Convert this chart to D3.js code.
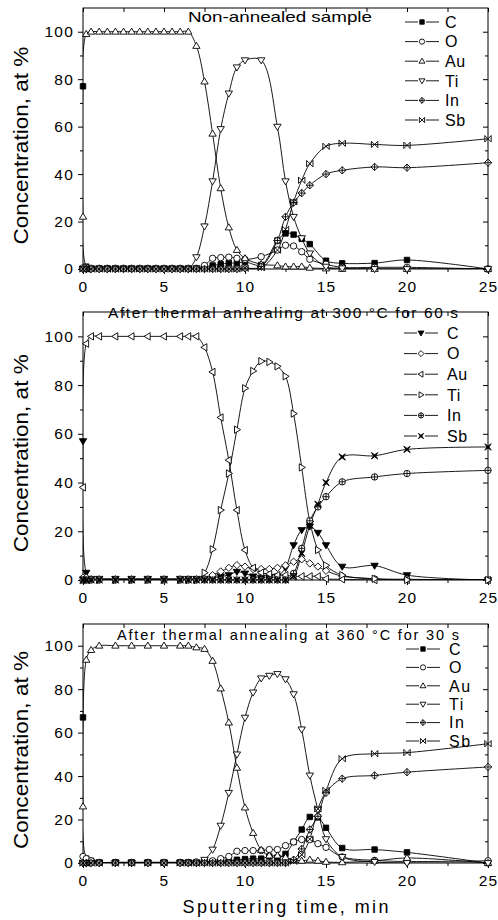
<!DOCTYPE html>
<html>
<head>
<meta charset="utf-8">
<script src="https://cdn.jsdelivr.net/npm/d3@7"></script>
<style>
  body { margin: 0; background: #fff; }
  svg { display: block; font-family: "Liberation Sans", Arial, sans-serif; }
</style>
</head>
<body>
<div id="chart"></div>
<script>
// element names, same order in every panel
const elements = ["C", "O", "Au", "Ti", "In", "Sb"];

// axis ticks
const xTicks = [0, 5, 10, 15, 20, 25];
const xMinor = [2.5, 7.5, 12.5, 17.5, 22.5];
const yTicks = [0, 20, 40, 60, 80, 100];
const yMinor = [10, 30, 50, 70, 90];

// panel 1 : non-annealed sample
const time1 = [0, 0.2, 0.5, 1, 1.5, 2, 2.5, 3, 3.5, 4, 4.5, 5, 5.5, 6, 6.5, 7, 7.5, 8, 8.5, 9, 9.5, 10, 11, 12, 12.5, 13, 13.5, 14, 15, 16, 18, 20, 25];
const c1  = [77, 1, 0.3, 0.3, 0.3, 0.3, 0.3, 0.3, 0.3, 0.3, 0.3, 0.3, 0.3, 0.3, 0.3, 0.3, 0.5, 1.5, 2, 2.5, 2.5, 3, 1.7, 12, 15, 14.5, 12.7, 10.5, 3.5, 2.4, 2.5, 3.8, 0];
const o1  = [0.5, 0.5, 0.3, 0.3, 0.3, 0.3, 0.3, 0.3, 0.3, 0.3, 0.3, 0.3, 0.3, 0.3, 0.3, 0.3, 1.5, 4.5, 4.8, 5, 4.5, 4, 5.2, 8, 10, 9.7, 7.3, 4.1, 2, 0.7, 0.7, 0.7, 0];
const au1 = [22, 99, 100, 100, 100, 100, 100, 100, 100, 100, 100, 100, 100, 100, 100, 94, 79, 57, 34, 17.5, 8, 4.5, 2, 1.5, 1, 1, 1, 0.5, 0.2, 0, 0, 0, 0];
const ti1 = [0, 0, 0, 0, 0, 0, 0, 0, 0, 0, 0, 0, 0, 0, 0, 5, 18, 37, 59, 74, 85, 88, 88, 60, 37, 22, 13, 6.6, 1, 0.3, 0, 0, 0];
const in1 = [0, 0, 0, 0, 0, 0, 0, 0, 0, 0, 0, 0, 0, 0, 0, 0, 0, 0, 0, 0, 0, 0.3, 1, 12, 22, 28, 32, 35.3, 40, 41.6, 43, 42.7, 44.8];
const sb1 = [0, 0, 0, 0, 0, 0, 0, 0, 0, 0, 0, 0, 0, 0, 0, 0, 0, 0, 0, 0, 0, 0.3, 0.5, 8, 16.7, 28.3, 37.4, 44.4, 51.7, 53, 52.5, 52.1, 54.9];

// panel 2 : 300 C for 60 s
const time2 = [0, 0.2, 0.5, 1, 2, 3, 4, 5, 6, 6.5, 7, 7.5, 8, 8.5, 9, 9.5, 10, 10.5, 11, 11.5, 12, 12.5, 13, 13.5, 14, 14.5, 15, 16, 18, 20, 25];
const c2  = [57, 3, 0.5, 0.5, 0.5, 0.5, 0.5, 0.5, 0.5, 0.5, 0.5, 0.5, 0.8, 1.5, 2, 3.4, 2.7, 1.5, 1, 1, 1.5, 5, 14.3, 20.5, 22, 19.4, 14.3, 5.5, 5.9, 2, 0];
const o2  = [1, 1, 0.3, 0.3, 0.3, 0.3, 0.3, 0.3, 0.3, 0.3, 0.3, 0.5, 2, 3.5, 5, 6.1, 5.5, 4.5, 4.5, 4.5, 5, 6, 7.5, 8.5, 6.8, 5.5, 3.8, 1.6, 0.5, 0.3, 0];
const au2 = [38, 97, 100, 100, 100, 100, 100, 100, 100, 100, 100, 95.5, 85.4, 66.7, 49.2, 28.7, 12.3, 5, 3, 2.5, 2, 2, 1.5, 1.5, 1.5, 1.5, 0.5, 0.3, 0, 0, 0];
const ti2 = [0, 0, 0, 0, 0, 0, 0, 0, 0, 0, 0, 3, 12.6, 28.7, 43.7, 61.7, 78.7, 85.8, 89.8, 89.5, 87.7, 83.6, 68.3, 46.2, 24, 12.3, 6, 2, 0.5, 0, 0];
const in2 = [0, 0, 0, 0, 0, 0, 0, 0, 0, 0, 0, 0, 0, 0, 0, 0, 0, 0, 0, 0, 0, 0, 2.7, 13, 24.3, 30, 34.2, 40.3, 42.3, 43.7, 45];
const sb2 = [0, 0, 0, 0, 0, 0, 0, 0, 0, 0, 0, 0, 0, 0, 0, 0, 0, 0, 0, 0, 0, 0, 1.5, 10.9, 22.5, 31.1, 40, 50.5, 51, 53.6, 54.6];

// panel 3 : 360 C for 30 s
const time3 = [0, 0.2, 0.5, 1, 2, 3, 4, 5, 6, 6.5, 7, 7.5, 8, 8.5, 9, 9.5, 10, 10.5, 11, 11.5, 12, 12.5, 13, 13.5, 14, 14.5, 15, 16, 18, 20, 25];
const c3  = [67, 2, 1, 0.3, 0.3, 0.3, 0.3, 0.3, 0.3, 0.3, 0.3, 0.5, 0.5, 0.8, 1, 1.5, 1.8, 2, 2, 3, 2.5, 4.2, 9.7, 15.4, 21.2, 21, 16.2, 6.9, 6.2, 4.9, 0];
const o3  = [3, 2, 1, 0.3, 0.3, 0.3, 0.3, 0.3, 0.3, 0.3, 0.5, 0.5, 1, 2, 3, 5.4, 5.7, 5.7, 5.7, 6.2, 6.2, 8, 9.7, 10.8, 10.8, 8.9, 7.2, 2.8, 1.2, 0.7, 1];
const au3 = [26, 93.5, 98, 100, 100, 100, 100, 100, 100, 100, 99.2, 98.5, 93, 80.3, 64.6, 43.8, 25.5, 13.8, 6, 3.4, 3.4, 2.6, 1.5, 1, 1.5, 1, 0.5, 0.3, 1, 2.3, 0];
const ti3 = [0, 0, 0, 0, 0, 0, 0, 0, 0, 0, 0, 1.5, 6.2, 17.2, 32.3, 50, 66.9, 78.5, 85, 86.2, 87, 84.6, 77.7, 61.5, 40.3, 24.6, 11, 2.8, 0.5, 0, 0];
const in3 = [0, 0, 0, 0, 0, 0, 0, 0, 0, 0, 0, 0, 0, 0, 0, 0, 0, 0, 0, 0, 0, 0, 1.5, 6.5, 15.4, 21.5, 32.3, 38.8, 40.3, 41.8, 44.2];
const sb3 = [0, 0, 0, 0, 0, 0, 0, 0, 0, 0, 0, 0, 0, 0, 0, 0, 0, 0, 0, 0, 0, 0, 0.8, 3.8, 11, 24.9, 33.4, 48, 50.3, 50.8, 54.9];

const titles = [
  "Non-annealed sample",
  "After thermal anhealing at 300 °C for 60 s",
  "After thermal annealing at 360 °C for 30 s"
];

// symbols: set A for panels 1 and 3, set B for panel 2
const symbolsA = [
  {shape: "square", fill: "#000"},
  {shape: "circle", fill: "#fff"},
  {shape: "triUp", fill: "#fff"},
  {shape: "triDown", fill: "#fff"},
  {shape: "diamond", fill: "#fff", plus: true},
  {shape: "bowtie", fill: "none"}
];
const symbolsB = [
  {shape: "triDown", fill: "#000"},
  {shape: "diamond", fill: "#fff"},
  {shape: "triLeft", fill: "#fff"},
  {shape: "triRight", fill: "#fff"},
  {shape: "circle", fill: "#fff", plus: true},
  {shape: "star", fill: "#000"}
];

function shapePath(shape, s) {
  const h = s * 1.15;
  switch (shape) {
    case "square": return `M${-s*0.85},${-s*0.85}H${s*0.85}V${s*0.85}H${-s*0.85}Z`;
    case "circle": return `M${-s},0A${s},${s} 0 1,0 ${s},0A${s},${s} 0 1,0 ${-s},0Z`;
    case "triUp": return `M0,${-h}L${h},${s*0.75}L${-h},${s*0.75}Z`;
    case "triDown": return `M0,${h}L${h},${-s*0.75}L${-h},${-s*0.75}Z`;
    case "triLeft": return `M${-h},0L${s*0.75},${-h}L${s*0.75},${h}Z`;
    case "triRight": return `M${h},0L${-s*0.75},${-h}L${-s*0.75},${h}Z`;
    case "diamond": return `M0,${-h}L${h},0L0,${h}L${-h},0Z`;
    case "bowtie": return `M${-s},${-s}L${s},${s}M${-s},${s}L${s},${-s}M${-s},${-s}V${s}M${s},${-s}V${s}`;
    case "star": return `M${-s},${-s}L0,${-s*0.3}L${s},${-s}L${s*0.3},0L${s},${s}L0,${s*0.3}L${-s},${s}L${-s*0.3},0Z`;
  }
}

function addMarker(g, sym, s) {
  g.append("path")
    .attr("d", shapePath(sym.shape, s))
    .attr("fill", sym.fill)
    .attr("stroke", "#000")
    .attr("stroke-width", 0.9);
  if (sym.plus) {
    const k = sym.shape == "diamond" ? s * 1.15 : s;
    g.append("path")
      .attr("d", `M${-k},0H${k}M0,${-k}V${k}`)
      .attr("stroke", "#000")
      .attr("stroke-width", 0.9);
  }
}

function draw() {
  const width = 498, height = 920;
  const left = 83, right = 488;

  // three stacked panels, each with its own frame and legend placement
  const panels = [
    {top: 8, bottom: 269, time: time1, series: [c1, o1, au1, ti1, in1, sb1], symbols: symbolsA,
     title: {x: 188, dy: 14, len: 184, size: 14.5, adjust: "spacingAndGlyphs"},
     legend: {dy: 14, step: 19.6, sym: 422, text: 445}},
    {top: 312, bottom: 580, time: time2, series: [c2, o2, au2, ti2, in2, sb2], symbols: symbolsB,
     title: {x: 108, dy: 5.5, len: 350, size: 15.5, adjust: "spacing"},
     legend: {dy: 21, step: 20.6, sym: 421, text: 447}},
    {top: 624, bottom: 863, time: time3, series: [c3, o3, au3, ti3, in3, sb3], symbols: symbolsA,
     title: {x: 117, dy: 15.5, len: 342, size: 14.5, adjust: "spacing"},
     legend: {dy: 25, step: 18.4, sym: 423, text: 449}}
  ];

  const svg = d3.select("#chart")
    .append("svg")
    .attr("width", width)
    .attr("height", height)
    .attr("viewBox", [0, 0, width, height]);

  const x = d3.scaleLinear().domain([0, 25]).range([left, right]);

  panels.forEach((p, pi) => {
    const y = d3.scaleLinear().domain([0, 110]).range([p.bottom, p.top]);
    const g = svg.append("g");

    // clip so curves stay in the frame
    g.append("clipPath").attr("id", "clip" + pi)
      .append("rect")
      .attr("x", left).attr("y", p.top)
      .attr("width", right - left).attr("height", p.bottom - p.top);

    // axes: left/bottom ticks outward, top/right ticks inward
    const axisStyle = sel => {
      sel.select(".domain").remove();
      sel.selectAll(".tick line").attr("stroke", "#000");
    };
    g.append("g").attr("transform", `translate(${left},0)`)
      .call(d3.axisLeft(y).tickValues(yTicks).tickSize(5).tickPadding(4))
      .call(axisStyle)
      .call(a => a.selectAll("text")
        .attr("font-size", 15.5).attr("letter-spacing", 1.2).attr("fill", "#000")
        .attr("font-family", "Liberation Sans, Arial, sans-serif"));
    g.append("g").attr("transform", `translate(${left},0)`)
      .call(d3.axisLeft(y).tickValues(yMinor).tickSize(3).tickFormat(""))
      .call(axisStyle);
    g.append("g").attr("transform", `translate(0,${p.bottom})`)
      .call(d3.axisBottom(x).tickValues(xTicks).tickSize(5))
      .call(axisStyle)
      .call(a => a.selectAll("text")
        .attr("y", 12).attr("font-size", 15.5).attr("letter-spacing", 1.2).attr("fill", "#000")
        .attr("font-family", "Liberation Sans, Arial, sans-serif"));
    g.append("g").attr("transform", `translate(0,${p.bottom})`)
      .call(d3.axisBottom(x).tickValues(xMinor).tickSize(3).tickFormat(""))
      .call(axisStyle);
    g.append("g").attr("transform", `translate(0,${p.top})`)
      .call(d3.axisTop(x).tickValues(xTicks.concat(xMinor)).tickSize(-4).tickFormat(""))
      .call(axisStyle);
    g.append("g").attr("transform", `translate(${right},0)`)
      .call(d3.axisRight(y).tickValues(yTicks).tickSize(-5).tickFormat(""))
      .call(axisStyle);
    g.append("g").attr("transform", `translate(${right},0)`)
      .call(d3.axisRight(y).tickValues(yMinor).tickSize(-3).tickFormat(""))
      .call(axisStyle);

    // frame
    g.append("rect")
      .attr("x", left).attr("y", p.top)
      .attr("width", right - left).attr("height", p.bottom - p.top)
      .attr("fill", "none").attr("stroke", "#000").attr("stroke-width", 1);

    // y label
    g.append("text")
      .attr("transform", `translate(28,${y(52)}) rotate(-90)`)
      .attr("text-anchor", "middle")
      .attr("font-size", 20.5)
      .attr("textLength", 198)
      .attr("lengthAdjust", "spacingAndGlyphs")
      .text("Concentration, at %");

    // smooth curves through the points
    const line = d3.line()
      .x(d => x(d[0]))
      .y(d => y(d[1]))
      .curve(d3.curveCatmullRom.alpha(0.5));

    p.series.forEach((vals, si) => {
      const pts = p.time.map((t, i) => [t, vals[i]]);
      g.append("path")
        .datum(pts)
        .attr("clip-path", `url(#clip${pi})`)
        .attr("d", line)
        .attr("fill", "none")
        .attr("stroke", "#000")
        .attr("stroke-width", 0.9);
    });

    // markers on top of the curves
    p.series.forEach((vals, si) => {
      const pts = p.time.map((t, i) => [t, vals[i]]);
      g.append("g").selectAll("g")
        .data(pts)
        .join("g")
        .attr("transform", d => `translate(${x(d[0])},${y(d[1])})`)
        .each(function() { addMarker(d3.select(this), p.symbols[si], 3.2); });
    });

    // panel title
    g.append("text")
      .attr("x", p.title.x)
      .attr("y", p.top + p.title.dy)
      .attr("font-size", p.title.size)
      .attr("textLength", p.title.len)
      .attr("lengthAdjust", p.title.adjust)
      .text(titles[pi]);

    // legend
    const leg = g.append("g");
    elements.forEach((name, si) => {
      const ly = p.top + p.legend.dy + si * p.legend.step;
      leg.append("line")
        .attr("x1", p.legend.sym - 17).attr("x2", p.legend.sym + 17)
        .attr("y1", ly).attr("y2", ly)
        .attr("stroke", "#000").attr("stroke-width", 0.9);
      const m = leg.append("g").attr("transform", `translate(${p.legend.sym},${ly})`);
      m.append("rect").attr("x", -4).attr("y", -4).attr("width", 8).attr("height", 8).attr("fill", "#fff");
      addMarker(m, p.symbols[si], 2.6);
      leg.append("text")
        .attr("x", p.legend.text)
        .attr("y", ly)
        .attr("dy", "0.36em")
        .attr("font-size", 16)
        .attr("letter-spacing", pi == 2 ? 1.5 : 0.5)
        .text(name);
    });
  });

  // x label
  svg.append("text")
    .attr("x", (left + right) / 2)
    .attr("y", 913)
    .attr("text-anchor", "middle")
    .attr("font-size", 18)
    .attr("textLength", 206)
    .attr("lengthAdjust", "spacing")
    .text("Sputtering time, min");
}

draw();
</script>
</body>
</html>
